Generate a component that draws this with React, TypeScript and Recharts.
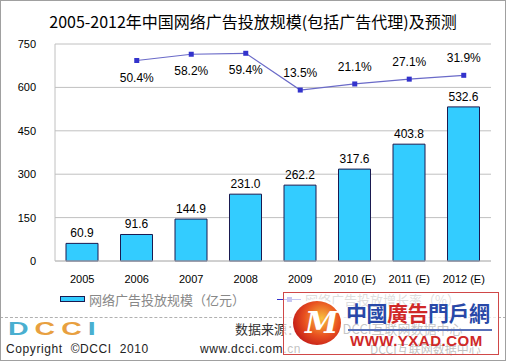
import React from "react";
import {
  ComposedChart,
  Bar,
  Line,
  XAxis,
  YAxis,
  CartesianGrid,
  LabelList,
} from "recharts";

const years = ["2005", "2006", "2007", "2008", "2009", "2010 (E)", "2011 (E)", "2012 (E)"];
const spend = [60.9, 91.6, 144.9, 231.0, 262.2, 317.6, 403.8, 532.6];
const growth: (number | null)[] = [null, 50.4, 58.2, 59.4, 13.5, 21.1, 27.1, 31.9];
const yTicks = [0, 150, 300, 450, 600, 750];

const data = years.map((year, i) => ({
  year,
  spend: spend[i],
  growth: growth[i],
}));

const NUM_FONT = "'Liberation Sans', Arial, sans-serif";
const CJK_FONT = "'Noto Sans CJK SC', 'Noto Sans', sans-serif";

function SquareDot(props: any) {
  const { cx, cy, value } = props;
  if (value == null || cx == null || cy == null) return null;
  return <rect x={cx - 2.5} y={cy - 2.5} width={5} height={5} fill="#3333cc" />;
}

// first three labels sit under the point, the rest above it
function PctLabel(props: any) {
  const { x, y, value, index } = props;
  if (value == null) return null;
  const dy = index < 4 ? 18 : -16;
  return (
    <text
      x={x}
      y={y + dy}
      textAnchor="middle"
      dominantBaseline="middle"
      fontSize={12}
      fontFamily={NUM_FONT}
      fill="#000"
    >
      {value.toFixed(1)}%
    </text>
  );
}

function Watermark() {
  return (
    <div
      style={{
        position: "absolute",
        left: 283,
        top: 292,
        width: 216,
        height: 63,
        boxSizing: "border-box",
        border: "1px solid #d04848",
        background: "rgba(255,255,255,0.72)",
      }}
    >
      <div
        style={{
          position: "absolute",
          left: 9,
          top: 8,
          width: 48,
          height: 44,
          borderRadius: "50%",
          background: "radial-gradient(circle at 60% 40%, #f8c040 0%, #e85020 45%, #c01818 80%)",
          boxShadow: "0 0 0 2px #fff",
        }}
      >
        <div
          style={{
            position: "absolute",
            left: 12,
            top: 6,
            fontSize: 30,
            fontWeight: 700,
            fontStyle: "italic",
            color: "#fff",
            fontFamily: "'DejaVu Serif', serif",
            lineHeight: "32px",
          }}
        >
          M
        </div>
      </div>
      <div
        style={{
          position: "absolute",
          left: 62,
          top: 6,
          fontSize: 21,
          fontWeight: 700,
          fontFamily: CJK_FONT,
          lineHeight: "26px",
          letterSpacing: -0.5,
          whiteSpace: "nowrap",
        }}
      >
        <span style={{ color: "#2848a8" }}>中國</span>
        <span style={{ color: "#d02828" }}>廣告</span>
        <span style={{ color: "#2848a8" }}>門戶網</span>
      </div>
      <div
        style={{
          position: "absolute",
          left: 64,
          top: 36,
          width: 144,
          height: 2,
          background: "#5870b8",
        }}
      />
      <div
        style={{
          position: "absolute",
          left: 66,
          top: 39,
          fontSize: 15,
          fontWeight: 700,
          fontFamily: NUM_FONT,
          color: "#d02828",
          lineHeight: "17px",
          letterSpacing: 0.5,
          whiteSpace: "nowrap",
        }}
      >
        WWW.YXAD.COM
      </div>
    </div>
  );
}

export default function App() {
  return (
    <div
      style={{
        position: "absolute",
        left: 0,
        top: 0,
        width: 506,
        height: 361,
        background: "#fff",
        overflow: "hidden",
      }}
    >
      <div
        style={{
          position: "absolute",
          left: 0,
          top: 10,
          width: 506,
          textAlign: "center",
          fontSize: 16,
          fontFamily: CJK_FONT,
          color: "#000",
          lineHeight: "22px",
        }}
      >
        2005-2012年中国网络广告投放规模(包括广告代理)及预测
      </div>

      <div style={{ position: "absolute", left: 0, top: 0 }}>
        <ComposedChart
          width={506}
          height={300}
          data={data}
          margin={{ top: 44, right: 15, bottom: 9, left: 0 }}
        >
          <CartesianGrid horizontal vertical={false} stroke="#c0c0c0" />
          <XAxis
            dataKey="year"
            height={30}
            axisLine={{ stroke: "#c0c0c0" }}
            tickLine={false}
            tickSize={0}
            tickMargin={14}
            interval={0}
            tick={{ fill: "#000", fontSize: 11, fontFamily: NUM_FONT }}
          />
          <YAxis
            width={55}
            domain={[0, 750]}
            ticks={yTicks}
            axisLine={{ stroke: "#c0c0c0" }}
            tickLine={false}
            tickSize={0}
            tickMargin={19}
            tick={{ fill: "#000", fontSize: 11, fontFamily: NUM_FONT }}
          />
          <YAxis
            yAxisId="pct"
            orientation="right"
            width={0}
            domain={[-200, 71]}
            allowDataOverflow
            axisLine={{ stroke: "#c0c0c0" }}
            tickLine={false}
            tick={false}
          />
          <Bar
            dataKey="spend"
            barSize={32}
            fill="#33ccff"
            stroke="#1a1a50"
            strokeWidth={1}
            isAnimationActive={false}
          >
            <LabelList
              dataKey="spend"
              position="top"
              offset={6}
              fill="#000"
              fontSize={12}
              fontFamily={NUM_FONT}
              formatter={(v: any) => Number(v).toFixed(1)}
            />
          </Bar>
          <Line
            yAxisId="pct"
            dataKey="growth"
            stroke="#6a6ac8"
            strokeWidth={1.2}
            dot={<SquareDot />}
            activeDot={false}
            isAnimationActive={false}
          >
            <LabelList dataKey="growth" content={<PctLabel />} />
          </Line>
        </ComposedChart>
      </div>

      {/* legend */}
      <div
        style={{
          position: "absolute",
          left: 60,
          top: 296,
          width: 25,
          height: 6,
          background: "#33ccff",
          border: "1px solid #1a1a50",
          boxSizing: "border-box",
        }}
      />
      <div
        style={{
          position: "absolute",
          left: 89,
          top: 291,
          fontSize: 13,
          fontFamily: CJK_FONT,
          color: "#888",
          lineHeight: "18px",
          whiteSpace: "nowrap",
        }}
      >
        网络广告投放规模（亿元）
      </div>
      <div
        style={{
          position: "absolute",
          left: 277,
          top: 299,
          width: 24,
          height: 1,
          background: "#3333cc",
        }}
      />
      <div
        style={{
          position: "absolute",
          left: 287,
          top: 297,
          width: 5,
          height: 5,
          background: "#3333cc",
        }}
      />
      <div
        style={{
          position: "absolute",
          left: 305,
          top: 291,
          fontSize: 13,
          fontFamily: CJK_FONT,
          color: "#888",
          lineHeight: "18px",
          whiteSpace: "nowrap",
        }}
      >
        网络广告投放增长率（%）
      </div>

      {/* footer */}
      <div
        style={{
          position: "absolute",
          left: 0,
          top: 317,
          width: 506,
          borderTop: "1px dashed #b0b0b0",
        }}
      />
      <div
        style={{
          position: "absolute",
          left: 8,
          top: 319,
          fontSize: 19,
          fontWeight: 700,
          fontFamily: NUM_FONT,
          lineHeight: "20px",
          letterSpacing: 4,
          transform: "scaleX(1.5)",
          transformOrigin: "left",
          whiteSpace: "nowrap",
        }}
      >
        <span style={{ color: "#4aafd0" }}>D</span>
        <span style={{ color: "#e8a040" }}>CC</span>
        <span style={{ color: "#4aafd0" }}>I</span>
      </div>
      <div
        style={{
          position: "absolute",
          left: 235,
          top: 320,
          fontSize: 13,
          fontFamily: CJK_FONT,
          color: "#333",
          lineHeight: "17px",
          whiteSpace: "nowrap",
        }}
      >
        数据来源：2010.3 DCCI互联网数据中心
      </div>
      <div
        style={{
          position: "absolute",
          left: 6,
          top: 341,
          fontSize: 12,
          fontFamily: NUM_FONT,
          color: "#222",
          lineHeight: "16px",
          letterSpacing: 0.6,
          whiteSpace: "nowrap",
        }}
      >
        Copyright &nbsp;©DCCI &nbsp;2010
      </div>
      <div
        style={{
          position: "absolute",
          left: 200,
          top: 341,
          fontSize: 12,
          fontFamily: NUM_FONT,
          color: "#222",
          lineHeight: "16px",
          letterSpacing: 0.6,
          whiteSpace: "nowrap",
        }}
      >
        www.dcci.com.cn
      </div>
      <div
        style={{
          position: "absolute",
          left: 370,
          top: 341,
          fontSize: 12,
          fontFamily: CJK_FONT,
          color: "#222",
          lineHeight: "16px",
          whiteSpace: "nowrap",
        }}
      >
        DCCI互联网数据中心
      </div>

      <Watermark />

      <div
        style={{
          position: "absolute",
          left: 0,
          top: 0,
          width: 506,
          height: 361,
          boxSizing: "border-box",
          border: "1px solid #a0a0a0",
          pointerEvents: "none",
        }}
      />
    </div>
  );
}
